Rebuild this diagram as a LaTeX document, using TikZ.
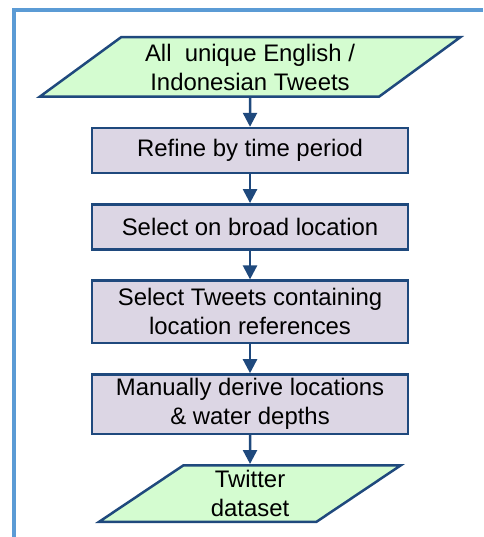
\documentclass[tikz,border=0pt]{standalone}
\usepackage{fontspec}
\setmainfont{Liberation Sans}
\usepackage{tikz}
\usetikzlibrary{positioning,shapes.geometric,arrows.meta}
\definecolor{framecol}{RGB}{91,155,213}
\definecolor{edgecol}{RGB}{31,73,125}
\definecolor{stepfill}{RGB}{220,214,228}
\definecolor{datafill}{RGB}{212,252,208}

\begin{document}
\begin{tikzpicture}[x=1pt, y=1pt, node distance=28.8pt, >={Triangle[width=14pt,length=14pt]},
  every node/.style={font=\fontsize{23.9}{29}\selectfont, align=center, inner sep=1pt},
  stepbox/.style={draw=edgecol, fill=stepfill, line width=2.5pt, rectangle, minimum width=316pt, minimum height=45pt},
  databox/.style={draw=edgecol, fill=datafill, line width=2.5pt, trapezium, trapezium stretches=true}]

\useasboundingbox (0,0) rectangle (483,537);

% Frame
\draw[framecol, line width=3.5pt] (14,0) |- (483,527);

% Input data
\node[databox, trapezium left angle=36, trapezium right angle=144, minimum width=422pt, minimum height=59.5pt] (tweets) at (250,470) {All~ unique English /\\Indonesian Tweets};

% Filter steps
\node[stepbox, below=of tweets] (period) {Refine by time period};
\node[stepbox, below=of period] (broad) {Select on broad location};
\node[stepbox, below=of broad, minimum height=62.5pt] (refs) {Select Tweets containing\\location references};
\node[stepbox, below=of refs, minimum height=59.5pt] (manual) {Manually derive locations\\\& water depths};

% Output data
\node[databox, below=of manual, trapezium left angle=43.6, trapezium right angle=136.4, minimum width=302pt, minimum height=56.5pt] (dataset) {Twitter\\dataset};

% Connections
\foreach \a/\b in {tweets/period, period/broad, broad/refs, refs/manual, manual/dataset}
    \draw[->, edgecol, line width=2.5pt] (\a) -- (\b);
\end{tikzpicture}
\end{document}
